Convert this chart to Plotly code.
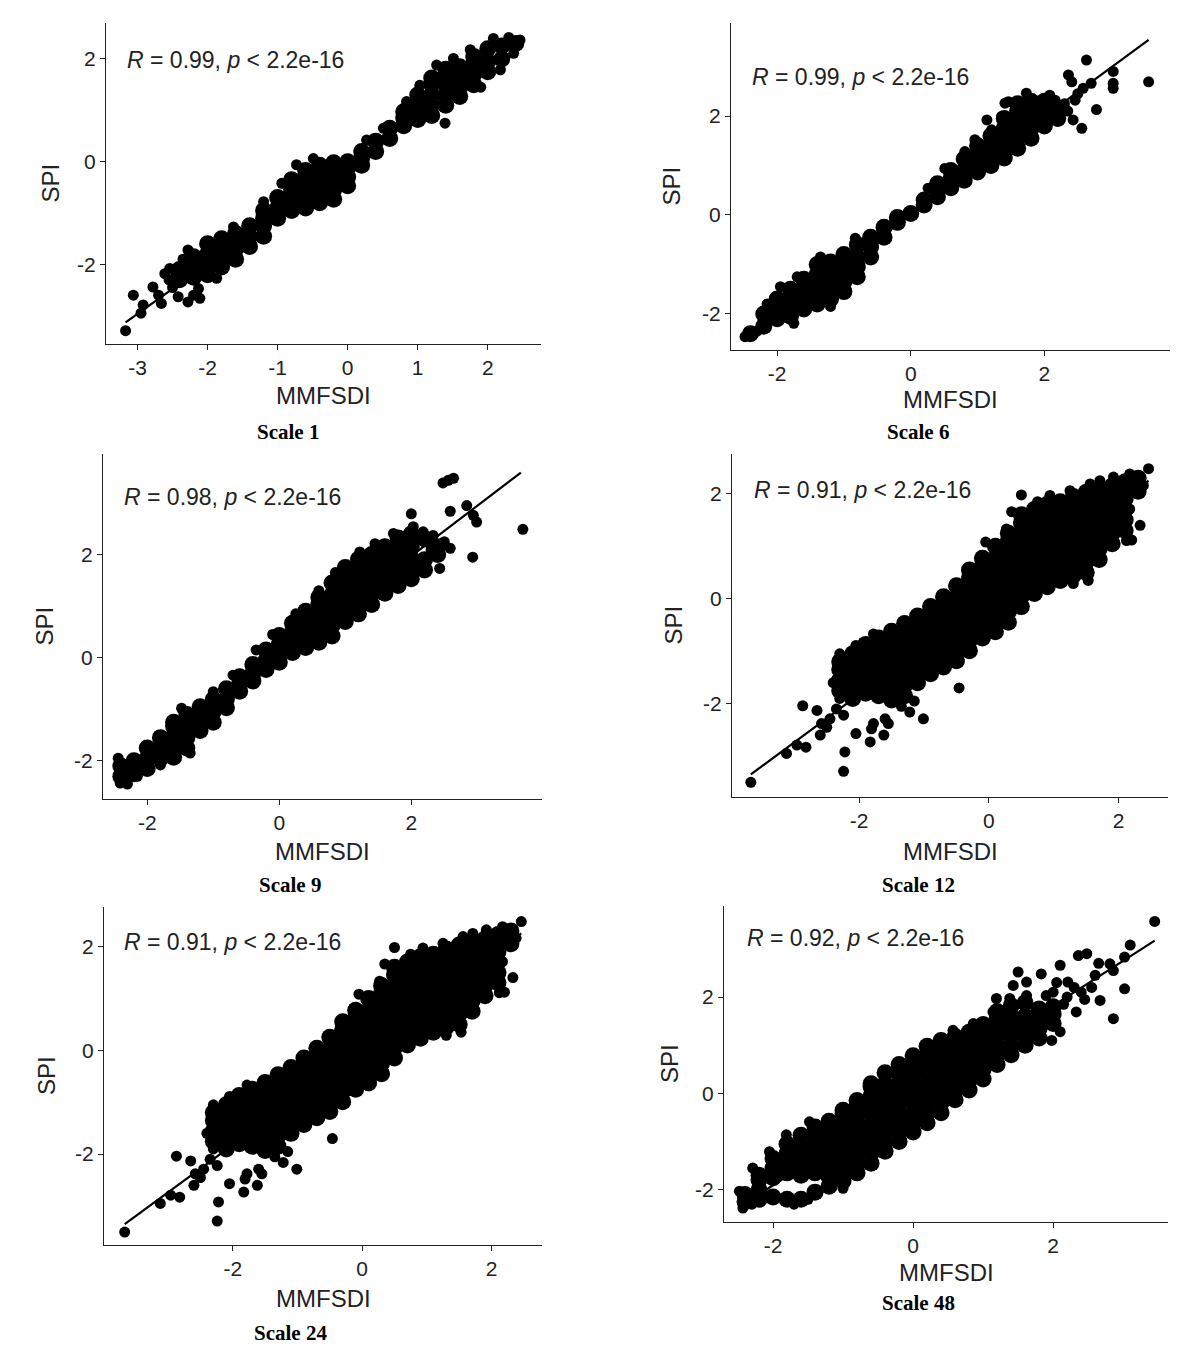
import plotly.graph_objects as go

# Six SPI vs MMFSDI scatter panels, one per time scale.
# Dense clouds are kept as columns: (MMFSDI, [SPI values read down that column]).
# Scattered / edge points are kept as plain (MMFSDI, SPI) pairs.

scale_names = ["Scale 1", "Scale 6", "Scale 9", "Scale 12", "Scale 24", "Scale 48"]
r_values = ["0.99", "0.99", "0.98", "0.91", "0.91", "0.92"]
p_value = "2.2e-16"

x_ticks = [[-3, -2, -1, 0, 1, 2], [-2, 0, 2], [-2, 0, 2], [-2, 0, 2], [-2, 0, 2], [-2, 0, 2]]
y_ticks = [[-2, 0, 2]] * 6

scale1_cols = [
    (-2.4, [-2.3, -2.1]),
    (-2.2, [-2.25, -2.05, -1.85]),
    (-2.0, [-2.2, -2.0, -1.8, -1.6]),
    (-1.8, [-2.05, -1.85, -1.65, -1.5]),
    (-1.6, [-1.9, -1.7, -1.5, -1.4]),
    (-1.4, [-1.65, -1.45, -1.25]),
    (-1.2, [-1.45, -1.25, -1.1, -0.95]),
    (-1.0, [-1.1, -0.9, -0.7]),
    (-0.8, [-0.95, -0.75, -0.55, -0.35]),
    (-0.6, [-0.9, -0.7, -0.5, -0.3, -0.17]),
    (-0.4, [-0.8, -0.6, -0.4, -0.2, -0.07]),
    (-0.2, [-0.73, -0.55, -0.35, -0.15, -0.02]),
    (0.0, [-0.47, -0.3, -0.12, 0.0]),
    (0.2, [-0.07, 0.07, 0.2]),
    (0.4, [0.2, 0.4]),
    (0.6, [0.45, 0.65]),
    (0.8, [0.7, 0.85, 0.97]),
    (1.0, [0.82, 1.0, 1.15, 1.3]),
    (1.2, [0.9, 1.1, 1.3, 1.5, 1.63]),
    (1.4, [1.1, 1.3, 1.5, 1.65, 1.8]),
    (1.6, [1.27, 1.45, 1.65, 1.85]),
    (1.8, [1.5, 1.7, 1.9, 2.05]),
    (2.0, [1.75, 1.95, 2.2]),
    (2.2, [2.0, 2.25]),
    (2.4, [2.3]),
]
scale1_pts = [
    (-3.17, -3.29), (-3.06, -2.6), (-2.92, -2.79), (-2.95, -2.95), (-2.78, -2.44),
    (-2.7, -2.6), (-2.66, -2.76), (-2.61, -2.18), (-2.54, -2.08), (-2.55, -2.3),
    (-2.5, -2.45), (-2.42, -2.63), (-2.45, -2.2), (-2.28, -2.73), (-2.2, -2.6),
    (-2.13, -2.47), (-2.11, -2.66), (-2.28, -1.72), (-2.35, -1.9), (-1.87, -2.27),
    (-1.63, -1.27), (-1.2, -0.78), (-0.94, -0.42), (-0.73, -0.06), (-0.49, 0.06),
    (0.27, 0.42), (0.51, 0.65), (0.84, 1.17), (1.03, 1.49), (1.27, 1.88),
    (1.39, 0.75), (1.51, 2.01), (1.75, 2.18), (1.9, 1.45), (2.08, 2.4),
    (2.18, 1.79), (2.3, 2.42), (2.46, 2.37), (2.37, 2.11),
]
scale1_fit = ([-3.17, 2.5], [-3.13, 2.39])

scale6_cols = [
    (-2.4, [-2.4]),
    (-2.2, [-2.25, -2.0]),
    (-2.0, [-2.1, -1.9, -1.7]),
    (-1.8, [-2.05, -1.85, -1.65, -1.5]),
    (-1.6, [-1.9, -1.7, -1.5, -1.3]),
    (-1.4, [-1.8, -1.6, -1.4, -1.2, -1.0]),
    (-1.2, [-1.7, -1.5, -1.3, -1.1, -0.95]),
    (-1.0, [-1.55, -1.35, -1.15, -0.95, -0.8]),
    (-0.8, [-1.25, -1.05, -0.85, -0.6]),
    (-0.6, [-0.85, -0.65, -0.45]),
    (-0.4, [-0.45, -0.25]),
    (-0.2, [-0.15, -0.05]),
    (0.0, [0.03]),
    (0.2, [0.2, 0.3]),
    (0.4, [0.37, 0.5, 0.63]),
    (0.6, [0.55, 0.72, 0.9]),
    (0.8, [0.7, 0.9, 1.13]),
    (1.0, [0.87, 1.05, 1.22, 1.4]),
    (1.2, [1.0, 1.2, 1.4, 1.6]),
    (1.4, [1.15, 1.35, 1.55, 1.75, 1.95]),
    (1.6, [1.35, 1.55, 1.75, 1.95, 2.1, 2.25]),
    (1.8, [1.55, 1.75, 1.95, 2.15, 2.3]),
    (2.0, [1.8, 2.0, 2.15, 2.3]),
    (2.2, [1.95, 2.15]),
]
scale6_pts = [
    (3.56, 2.69), (2.63, 3.13), (3.03, 2.9), (3.03, 2.66), (3.03, 2.56),
    (2.78, 2.13), (2.56, 1.75), (2.43, 1.92), (2.36, 2.83), (2.41, 2.69),
    (2.7, 2.66), (2.58, 2.56), (2.46, 2.32), (2.5, 2.45), (1.14, 1.92),
    (1.41, 2.26), (1.73, 2.46), (2.08, 2.42), (2.16, 2.32), (2.01, 2.19),
    (2.35, 2.1), (2.3, 2.25), (-1.2, -1.85), (-1.75, -2.19), (-2.48, -2.46),
    (-2.3, -2.35), (-2.15, -1.8), (-1.95, -1.45), (-1.7, -1.25), (-1.35, -0.85),
    (-0.83, -0.47), (0.26, 0.54), (0.51, 0.94), (0.81, 1.28), (0.96, 1.52),
    (1.21, 1.72), (1.36, 1.99), (1.46, 2.29),
]
scale6_fit = ([-2.48, 3.56], [-2.46, 3.54])

scale9_cols = [
    (-2.4, [-2.3, -2.1]),
    (-2.2, [-2.25, -2.0]),
    (-2.0, [-2.15, -1.95, -1.75]),
    (-1.8, [-1.95, -1.75, -1.55]),
    (-1.6, [-1.93, -1.73, -1.53, -1.33, -1.25]),
    (-1.4, [-1.75, -1.55, -1.35, -1.1]),
    (-1.2, [-1.41, -1.2, -0.95]),
    (-1.0, [-1.25, -1.05, -0.81]),
    (-0.8, [-0.97, -0.8, -0.6]),
    (-0.6, [-0.65, -0.5, -0.37]),
    (-0.4, [-0.45, -0.3, -0.13]),
    (-0.2, [-0.23, -0.05, 0.15]),
    (0.0, [-0.09, 0.1, 0.27, 0.43]),
    (0.2, [0.1, 0.3, 0.5, 0.67]),
    (0.4, [0.2, 0.4, 0.6, 0.75, 0.9]),
    (0.6, [0.3, 0.5, 0.7, 0.9, 1.05, 1.17]),
    (0.8, [0.42, 0.62, 0.82, 1.02, 1.22, 1.45]),
    (1.0, [0.7, 0.9, 1.1, 1.3, 1.5, 1.75]),
    (1.2, [0.85, 1.05, 1.25, 1.45, 1.65, 1.91]),
    (1.4, [1.03, 1.23, 1.43, 1.63, 1.83, 2.0]),
    (1.6, [1.25, 1.45, 1.65, 1.85, 2.0, 2.15]),
    (1.8, [1.4, 1.6, 1.8, 2.0, 2.15, 2.32]),
    (2.0, [1.53, 1.73, 1.93, 2.15, 2.4]),
    (2.2, [1.7, 1.9, 2.3]),
    (2.4, [2.0, 2.15]),
]
scale9_pts = [
    (2.56, 3.44), (2.48, 3.39), (2.64, 3.48), (2.0, 2.79), (2.59, 2.84),
    (2.84, 2.95), (2.94, 2.76), (2.99, 2.63), (3.69, 2.49), (2.93, 1.95),
    (2.43, 1.73), (1.45, 2.21), (1.22, 2.05), (1.73, 2.41), (2.03, 2.54),
    (2.18, 2.44), (2.33, 2.37), (2.59, 2.12), (2.3, 2.1), (2.5, 2.25),
    (-2.44, -1.95), (-2.41, -2.43), (-2.3, -2.45), (-2.15, -2.3), (-1.35, -1.85),
    (-1.8, -2.08), (-0.1, 0.45), (-0.35, 0.15), (0.25, 0.85), (0.6, 1.3),
    (0.85, 1.65), (-0.7, -0.34), (-1.0, -0.66), (-1.48, -0.98),
]
scale9_fit = ([-2.38, 3.66], [-2.3, 3.59])

scale12_cols = [
    (-2.3, [-1.75, -1.55, -1.35, -1.2]),
    (-2.1, [-1.9, -1.7, -1.5, -1.3, -1.05]),
    (-1.9, [-1.8, -1.6, -1.4, -1.2, -1.0, -0.87]),
    (-1.7, [-1.85, -1.65, -1.45, -1.25, -1.05, -0.9, -0.75]),
    (-1.5, [-1.93, -1.73, -1.53, -1.33, -1.13, -0.93, -0.75, -0.62]),
    (-1.3, [-1.85, -1.65, -1.45, -1.25, -1.05, -0.85, -0.65, -0.47]),
    (-1.1, [-1.6, -1.4, -1.2, -1.0, -0.8, -0.6, -0.45, -0.33]),
    (-0.9, [-1.43, -1.23, -1.03, -0.83, -0.63, -0.43, -0.25, -0.15]),
    (-0.7, [-1.3, -1.1, -0.9, -0.7, -0.5, -0.3, -0.1, 0.04]),
    (-0.5, [-1.18, -0.98, -0.78, -0.58, -0.38, -0.18, 0.02, 0.25]),
    (-0.3, [-0.99, -0.79, -0.59, -0.39, -0.19, 0.01, 0.21, 0.4, 0.55]),
    (-0.1, [-0.75, -0.55, -0.35, -0.15, 0.05, 0.25, 0.45, 0.63, 0.77]),
    (0.1, [-0.63, -0.43, -0.23, -0.03, 0.17, 0.37, 0.57, 0.77, 1.0]),
    (0.3, [-0.45, -0.25, -0.05, 0.15, 0.35, 0.55, 0.75, 0.95, 1.1, 1.25]),
    (0.5, [-0.15, 0.05, 0.25, 0.45, 0.65, 0.85, 1.05, 1.25, 1.45, 1.6]),
    (0.7, [0.1, 0.3, 0.5, 0.7, 0.9, 1.1, 1.3, 1.5, 1.7]),
    (0.9, [0.23, 0.43, 0.63, 0.83, 1.03, 1.23, 1.43, 1.63, 1.8]),
    (1.1, [0.35, 0.55, 0.75, 0.95, 1.15, 1.35, 1.55, 1.75, 1.85]),
    (1.3, [0.45, 0.65, 0.85, 1.05, 1.25, 1.45, 1.65, 1.85, 1.95]),
    (1.5, [0.5, 0.7, 0.9, 1.1, 1.3, 1.5, 1.7, 1.9, 2.03]),
    (1.7, [0.75, 0.95, 1.15, 1.35, 1.55, 1.75, 1.95, 2.1]),
    (1.9, [1.05, 1.25, 1.45, 1.65, 1.85, 2.05, 2.15]),
    (2.1, [1.3, 1.5, 1.7, 1.9, 2.1, 2.23]),
    (2.3, [2.05, 2.3]),
]
scale12_pts = [
    (-3.67, -3.5), (-3.12, -2.95), (-2.96, -2.79), (-2.82, -2.83), (-2.87, -2.04),
    (-2.65, -2.13), (-2.58, -2.38), (-2.6, -2.6), (-2.45, -2.29), (-2.35, -2.1),
    (-2.24, -2.22), (-2.22, -2.92), (-2.24, -3.29), (-2.05, -2.57), (-1.83, -2.73),
    (-1.81, -2.48), (-1.78, -2.38), (-1.62, -2.6), (-1.6, -2.29), (-1.55, -2.38),
    (-1.22, -2.16), (-1.01, -2.29), (-0.46, -1.7), (-2.5, -2.45), (-2.3, -1.9),
    (-2.3, -1.05), (-2.4, -1.6), (-2.05, -0.89), (-1.78, -0.67), (-1.35, -2.05),
    (-1.15, -1.95), (0.35, 1.66), (0.5, 1.98), (0.75, 1.85), (0.94, 1.97),
    (1.25, 2.06), (1.56, 2.19), (1.71, 2.25), (1.92, 2.32), (2.17, 2.38),
    (2.46, 2.48), (2.38, 2.16), (2.12, 1.11), (2.2, 1.12), (2.33, 1.4),
    (1.53, 0.35), (1.3, 0.29), (2.17, 1.71), (-0.05, 1.08), (0.27, 1.33),
]
scale12_fit = ([-3.67, 2.46], [-3.35, 2.25])

# Scale 24 cloud reads the same as Scale 12 in the figure
scale24_cols = list(scale12_cols)
scale24_pts = list(scale12_pts)
scale24_fit = ([-3.67, 2.46], [-3.35, 2.25])

scale48_cols = [
    (-2.4, [-2.25, -2.1]),
    (-2.2, [-2.2, -2.0, -1.8, -1.7]),
    (-2.0, [-2.15, -1.75, -1.55, -1.35]),
    (-1.8, [-2.2, -1.65, -1.45, -1.25, -1.05]),
    (-1.6, [-2.2, -1.7, -1.5, -1.3, -1.1, -0.87]),
    (-1.4, [-2.05, -1.65, -1.45, -1.25, -1.05, -0.85, -0.7]),
    (-1.2, [-1.93, -1.73, -1.53, -1.33, -1.13, -0.93, -0.73, -0.58]),
    (-1.0, [-1.82, -1.62, -1.42, -1.22, -1.02, -0.82, -0.62, -0.42, -0.35]),
    (-0.8, [-1.65, -1.45, -1.25, -1.05, -0.85, -0.65, -0.45, -0.25, -0.15]),
    (-0.6, [-1.45, -1.25, -1.05, -0.85, -0.65, -0.45, -0.25, -0.05, 0.15, 0.2]),
    (-0.4, [-1.2, -1.0, -0.8, -0.6, -0.4, -0.2, 0.0, 0.2, 0.43]),
    (-0.2, [-1.0, -0.8, -0.6, -0.4, -0.2, 0.0, 0.2, 0.4, 0.6]),
    (0.0, [-0.8, -0.6, -0.4, -0.2, 0.0, 0.2, 0.4, 0.6, 0.78]),
    (0.2, [-0.61, -0.41, -0.21, -0.01, 0.19, 0.39, 0.59, 0.79, 0.98]),
    (0.4, [-0.4, -0.2, 0.0, 0.2, 0.4, 0.6, 0.8, 0.95, 1.1]),
    (0.6, [-0.13, 0.07, 0.27, 0.47, 0.67, 0.87, 1.05, 1.18]),
    (0.8, [0.07, 0.27, 0.47, 0.67, 0.87, 1.07, 1.27]),
    (1.0, [0.3, 0.5, 0.7, 0.9, 1.1, 1.3, 1.43]),
    (1.2, [0.6, 0.8, 1.0, 1.2, 1.4, 1.55, 1.7]),
    (1.4, [0.8, 1.0, 1.2, 1.4, 1.6, 1.82]),
    (1.6, [1.0, 1.2, 1.4, 1.6, 1.88]),
    (1.8, [1.15, 1.35, 1.55, 1.75]),
    (2.0, [1.45, 1.65, 1.8]),
]
scale48_pts = [
    (3.45, 3.57), (3.1, 3.08), (3.02, 2.17), (2.86, 1.55), (2.81, 2.69),
    (2.86, 2.55), (3.02, 2.83), (2.67, 1.93), (2.48, 2.9), (2.36, 2.86),
    (2.1, 2.66), (2.21, 2.31), (2.33, 1.69), (2.4, 2.1), (1.98, 1.1),
    (2.1, 1.28), (1.5, 2.52), (1.83, 2.48), (1.62, 2.31), (1.43, 2.24),
    (1.19, 1.97), (2.2, 2.0), (2.3, 2.2), (2.55, 2.2), (2.6, 2.45),
    (2.15, 1.85), (2.45, 1.95), (2.05, 2.3), (2.0, 2.1), (2.65, 2.7),
    (-2.48, -2.03), (-2.43, -2.38), (-2.3, -2.3), (-2.29, -1.55), (-2.05, -1.21),
    (-1.81, -0.86), (-1.48, -0.59), (-1.7, -2.3), (-1.5, -2.2), (-1.0, -1.97),
    (0.57, 1.31), (0.86, 1.45), (1.14, 1.69), (1.38, 1.97), (1.62, 2.03),
    (1.9, 2.03),
]
scale48_fit = ([-2.43, 3.45], [-2.31, 3.17])

all_cols = [scale1_cols, scale6_cols, scale9_cols, scale12_cols, scale24_cols, scale48_cols]
all_pts = [scale1_pts, scale6_pts, scale9_pts, scale12_pts, scale24_pts, scale48_pts]
all_fits = [scale1_fit, scale6_fit, scale9_fit, scale12_fit, scale24_fit, scale48_fit]

# ---- layout (pixel boxes of each plotting area: left, right, top, bottom) ----
W, H = 1200, 1363
boxes = [
    (106, 541, 23, 344),
    (731, 1170, 23, 350),
    (103, 542, 454, 799),
    (732, 1168, 454, 797),
    (104, 542, 907, 1245),
    (724, 1168, 906, 1222),
]
x_ranges = [[-3.45, 2.76], [-2.69, 3.88], [-2.67, 3.98], [-3.96, 2.76], [-3.99, 2.78], [-2.70, 3.64]]
y_ranges = [[-3.55, 2.70], [-2.73, 3.88], [-2.74, 3.95], [-3.78, 2.76], [-3.75, 2.76], [-2.67, 3.89]]
r_pos = [(125, 60), (750, 77), (122, 497), (752, 490), (122, 942), (745, 938)]
spi_x = [50, 671, 44, 673, 46, 669]
mm_y = [396, 399, 851, 851, 1298, 1272]
scale_pos = [(288, 432), (918, 432), (290, 885), (918, 885), (290, 1333), (918, 1303)]

SANS = "Liberation Sans, Arial, sans-serif"
SERIF = "Liberation Serif, Times New Roman, serif"

fig = go.Figure()
annotations = []
layout = {}

for i in range(6):
    suffix = "" if i == 0 else str(i + 1)
    left, right, top, bottom = boxes[i]

    dense_x, dense_y = [], []
    for cx, ys in all_cols[i]:
        for cy in ys:
            dense_x.append(cx)
            dense_y.append(cy)

    fig.add_trace(go.Scatter(
        x=dense_x, y=dense_y, mode="markers",
        marker=dict(color="black", size=17, line=dict(width=0)),
        xaxis="x" + suffix, yaxis="y" + suffix, showlegend=False, hoverinfo="skip",
    ))
    fig.add_trace(go.Scatter(
        x=[p[0] for p in all_pts[i]], y=[p[1] for p in all_pts[i]], mode="markers",
        marker=dict(color="black", size=11, line=dict(width=0)),
        xaxis="x" + suffix, yaxis="y" + suffix, showlegend=False,
    ))
    fit_x, fit_y = all_fits[i]
    fig.add_trace(go.Scatter(
        x=fit_x, y=fit_y, mode="lines", line=dict(color="black", width=2.2),
        xaxis="x" + suffix, yaxis="y" + suffix, showlegend=False, hoverinfo="skip",
    ))

    axis_common = dict(
        showline=True, linecolor="#222", linewidth=1.4, showgrid=False, zeroline=False,
        ticks="outside", ticklen=5, tickwidth=1.2, tickcolor="#222",
        tickfont=dict(family=SANS, size=21, color="#222"),
    )
    # plain hyphen minus in tick labels, like the original
    layout["xaxis" + suffix] = dict(
        domain=[left / W, right / W], range=x_ranges[i], anchor="y" + suffix,
        tickvals=x_ticks[i], ticktext=[str(v) for v in x_ticks[i]], **axis_common,
    )
    layout["yaxis" + suffix] = dict(
        domain=[1 - bottom / H, 1 - top / H], range=y_ranges[i], anchor="x" + suffix,
        tickvals=y_ticks[i], ticktext=[str(v) for v in y_ticks[i]], **axis_common,
    )

    rx, ry = r_pos[i]
    annotations.append(dict(
        text="<i>R</i> = %s, <i>p</i> &lt; %s" % (r_values[i], p_value),
        x=rx / W, y=1 - ry / H, xref="paper", yref="paper",
        xanchor="left", yanchor="middle", showarrow=False,
        font=dict(family=SANS, size=23, color="#222"),
    ))
    annotations.append(dict(
        text="SPI", x=spi_x[i] / W, y=1 - (top + bottom) / 2 / H, xref="paper", yref="paper",
        textangle=-90, xanchor="center", yanchor="middle", showarrow=False,
        font=dict(family=SANS, size=24, color="#222"),
    ))
    annotations.append(dict(
        text="MMFSDI", x=(left + right) / 2 / W, y=1 - mm_y[i] / H, xref="paper", yref="paper",
        xanchor="center", yanchor="middle", showarrow=False,
        font=dict(family=SANS, size=24, color="#222"),
    ))
    sx, sy = scale_pos[i]
    annotations.append(dict(
        text="<b>%s</b>" % scale_names[i], x=sx / W, y=1 - sy / H, xref="paper", yref="paper",
        xanchor="center", yanchor="middle", showarrow=False,
        font=dict(family=SERIF, size=21, color="black"),
    ))

fig.update_layout(
    width=W, height=H, margin=dict(l=0, r=0, t=0, b=0),
    plot_bgcolor="white", paper_bgcolor="white",
    annotations=annotations, **layout,
)

fig.write_html(
    "out.html",
    config={"displayModeBar": False},
    post_script="document.body.style.margin='0';",
)
